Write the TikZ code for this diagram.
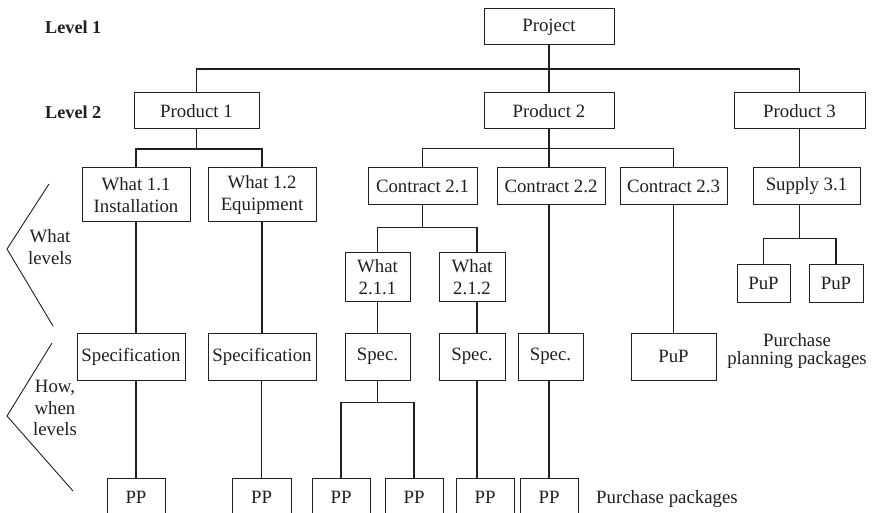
\documentclass[tikz,border=0pt]{standalone}
\usepackage{fontspec}
\setmainfont{Liberation Serif}
\usetikzlibrary{calc}
\definecolor{ink}{HTML}{231F20}
\begin{document}
\begin{tikzpicture}[x=1pt,y=-1pt,
  every node/.style={text=ink},
  bx/.style={draw=ink,line width=1pt,inner sep=0pt,align=center,
    font=\fontsize{18.8}{22}\selectfont},
  ln/.style={draw=ink,line width=1.5pt},
  brk/.style={draw=ink,line width=0.9pt},
  lbl/.style={inner sep=0pt,font=\fontsize{18.8}{22}\selectfont},
  lvl/.style={inner sep=0pt,font=\fontsize{18.2}{22}\selectfont\bfseries}]
\clip (0,0) rectangle (873,513);
\fill[white] (0,0) rectangle (873,513);
% level 1-2
\node[bx,minimum width=130pt,minimum height=36pt] (proj) at (549,27) {Project};
\node[bx,minimum width=125pt,minimum height=36pt] (p1) at (196.5,111) {Product 1};
\node[bx,minimum width=130pt,minimum height=36pt] (p2) at (549,111) {Product 2};
\node[bx,minimum width=131pt,minimum height=36pt] (p3) at (799.5,111) {Product 3};
% third row
\node[bx,minimum width=108pt,minimum height=54pt] (w11) at (136,195) {What 1.1\\Installation};
\node[bx,minimum width=108pt,minimum height=54pt] (w12) at (262,195) {What 1.2\\Equipment};
\node[bx,minimum width=109pt,minimum height=37pt] (c21) at (422.5,186.5) {Contract 2.1};
\node[bx,minimum width=108pt,minimum height=37pt] (c22) at (551,186.5) {Contract 2.2};
\node[bx,minimum width=107pt,minimum height=37pt] (c23) at (673.5,186.5) {Contract 2.3};
\node[bx,minimum width=107pt,minimum height=37pt] (s31) at (806.5,186.5) {Supply 3.1};
% what 2.1.x
\node[bx,minimum width=65pt,minimum height=48pt] (w211) at (377.5,277) {What\\2.1.1};
\node[bx,minimum width=66pt,minimum height=48pt] (w212) at (472,277) {What\\2.1.2};
\node[bx,minimum width=53pt,minimum height=37pt] (pupa) at (763.5,283.5) {PuP};
\node[bx,minimum width=54pt,minimum height=37pt] (pupb) at (836,283.5) {PuP};
% spec row
\node[bx,minimum width=108pt,minimum height=47pt] (sp1) at (131,356.5) {Specification};
\node[bx,minimum width=108pt,minimum height=47pt] (sp2) at (262,356.5) {Specification};
\node[bx,minimum width=65pt,minimum height=47pt] (sp211) at (377.5,356.5) {Spec.};
\node[bx,minimum width=66pt,minimum height=47pt] (sp212) at (472,356.5) {Spec.};
\node[bx,minimum width=65pt,minimum height=47pt] (sp22) at (550.5,356.5) {Spec.};
\node[bx,minimum width=85pt,minimum height=47pt] (pup23) at (673.5,356.5) {PuP};
% PP row
\node[bx,minimum width=58pt,minimum height=38pt] (pp1) at (136,497) {PP};
\node[bx,minimum width=59pt,minimum height=38pt] (pp2) at (261.5,497) {PP};
\node[bx,minimum width=58pt,minimum height=38pt] (pp3) at (341,497) {PP};
\node[bx,minimum width=58pt,minimum height=38pt] (pp4) at (414,497) {PP};
\node[bx,minimum width=58pt,minimum height=38pt] (pp5) at (485,497) {PP};
\node[bx,minimum width=58pt,minimum height=38pt] (pp6) at (549,497) {PP};
% labels
\node[lvl,anchor=base west] (lv1) at (45,33.3) {Level 1};
\node[lvl,anchor=base west] (lv2) at (45,118.3) {Level 2};
\node[lbl,align=center] (whatl) at (50,247) {What\\levels};
\node[lbl,align=center,font=\fontsize{18.8}{21.5}\selectfont] (howl) at (55,408) {How,\\when\\levels};
\node[lbl,align=center,font=\fontsize{18.8}{17.7}\selectfont] (pplan) at (797,351) {Purchase\\planning packages};
\node[lbl,anchor=base west] (ppk) at (596,503) {Purchase packages};
% connectors
\draw[ln] (proj.south) -- (p2.north);
\draw[ln] (p1.north) |- ($(proj.south)!.5!(p2.north)$) -| (p3.north);
\draw[ln] (p1.south) -- ++(0,19.5) coordinate (b1);
\draw[ln] (w11.north) |- (b1) -| (w12.north);
\draw[ln] (p2.south) -- (p2.south |- c22.north);
\draw[ln] (c21.north) |- ($(p2.south)!.5!(p2.south |- c22.north)$) -| (c23.north);
\draw[ln] (p3.south) -- (p3.south |- s31.north);
\draw[ln] (p3.south |- s31.south) -- ++(0,33) coordinate (b4);
\draw[ln] (pupa.north) |- (b4) -| (pupb.north);
\draw[ln] (c21.south) -- ++(0,22) coordinate (b3);
\draw[ln] (w211.north) |- (b3) -| ([xshift=5pt]w212.north);
\draw[ln] (w11.south) -- (w11.south |- sp1.north);
\draw[ln] (pp1.north |- sp1.south) -- (pp1.north);
\draw[ln] (w12.south) -- (sp2.north);
\draw[ln] (sp2.south) -- (sp2.south -| pp2.north) -- (pp2.north);
\draw[ln] (w211.south) -- (sp211.north);
\draw[ln] (sp211.south) -- ++(0,22) coordinate (b5);
\draw[ln] (pp3.north) |- (b5) -| (pp4.north);
\draw[ln] ([xshift=5pt]w212.south) -- ([xshift=5pt]sp212.north);
\draw[ln] ([xshift=5pt]sp212.south) -- ([xshift=5pt]sp212.south |- pp5.north);
\draw[ln] (pp6.north |- c22.south) -- (pp6.north |- sp22.north);
\draw[ln] (pp6.north |- sp22.south) -- (pp6.north);
\draw[ln] (c23.south) -- (c23.south |- pup23.north);
% brackets
\draw[brk] (49,184) -- (7,249) -- (53,326);
\draw[brk] (52,343) -- (7,416) -- (73,491);
\end{tikzpicture}
\end{document}
